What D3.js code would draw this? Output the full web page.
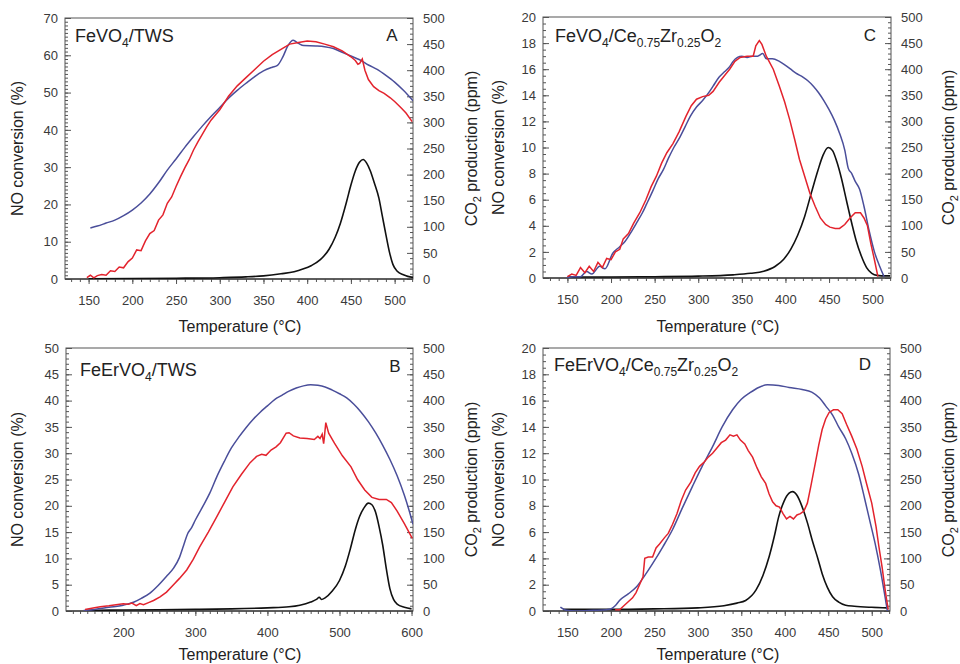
<!DOCTYPE html>
<html><head><meta charset="utf-8">
<script src="https://cdn.jsdelivr.net/npm/d3@7"></script>
<style>
body{margin:0;background:#fff}
svg{display:block}
text{font-family:"Liberation Sans",Arial,Helvetica,sans-serif}
</style>
</head><body>
<svg id="chart" width="960" height="664"></svg>
<script>
// ---------------- DATA ----------------
// Panel A: FeVO4/TWS
const A_blue = [[152,13.7],[160,14.2],[170,15.0],[180,15.8],[190,17.0],[200,18.5],[210,20.4],[220,22.8],[230,25.8],[240,29.2],[250,32.2],[260,35.3],[270,38.2],[280,41.0],[290,43.6],[300,46.0],[310,48.5],[320,50.6],[330,52.5],[340,54.3],[350,55.8],[360,56.8],[366,57.3],[372,59.5],[378,62.6],[384,64.0],[390,63.2],[396,62.6],[410,62.5],[420,62.3],[430,61.8],[440,60.8],[450,59.8],[460,58.8],[470,57.4],[480,56.2],[490,54.6],[500,52.8],[510,50.6],[521,47.8]];
const A_red = [[148,0.4],[152,1.0],[156,0.3],[160,0.9],[165,1.2],[170,1.0],[175,2.2],[180,2.0],[185,3.2],[190,3.0],[195,4.6],[200,5.6],[205,7.8],[210,7.6],[215,10.2],[220,12.2],[225,13.0],[230,15.8],[235,17.2],[240,20.3],[245,22.0],[250,24.8],[255,27.4],[260,29.8],[265,32.0],[270,34.6],[275,36.8],[280,38.8],[285,40.8],[290,42.6],[295,44.0],[300,45.4],[310,49.0],[320,51.8],[330,54.0],[340,56.2],[350,58.4],[360,60.2],[370,61.6],[380,63.0],[390,63.4],[400,63.8],[410,63.6],[420,63.0],[430,62.3],[440,61.2],[450,59.6],[455,58.6],[458,57.6],[460,57.8],[463,59.0],[466,56.0],[470,53.5],[476,51.6],[482,50.5],[488,49.8],[495,48.6],[500,47.6],[507,46.0],[513,44.5],[520,42.2]];
const A_co2 = [[150,0.5],[200,1],[250,1.5],[300,2.5],[330,4],[350,6],[370,10],[385,14],[395,19],[405,26],[415,37],[425,57],[432,80],[438,107],[445,148],[450,180],[455,207],[460,224],[464,229],[468,222],[472,208],[477,183],[482,155],[486,120],[490,85],[494,52],[498,28],[503,15],[510,8],[515,5],[521,3]];

// Panel B: FeErVO4/TWS
const B_blue = [[145,0.1],[160,0.3],[180,0.7],[200,1.1],[215,1.7],[225,2.4],[237,3.4],[248,4.8],[260,6.6],[270,8.2],[278,10.2],[284,12.6],[289,14.6],[295,15.9],[300,17.3],[310,19.8],[320,22.4],[330,25.6],[340,28.4],[350,31.0],[360,33.0],[370,34.8],[380,36.4],[390,37.8],[400,39.0],[410,40.2],[420,41.0],[430,41.8],[440,42.4],[450,42.8],[460,43.0],[470,42.9],[480,42.6],[490,42.0],[500,41.3],[510,40.5],[520,39.3],[530,37.8],[540,36.0],[550,33.9],[560,31.5],[570,28.8],[580,25.7],[590,22.0],[596,19.4],[602,16.5]];
const B_red = [[147,0.3],[160,0.6],[168,0.8],[180,1.0],[190,1.2],[200,1.4],[207,1.3],[212,1.5],[218,1.0],[223,1.4],[228,1.2],[235,1.6],[242,2.0],[251,2.7],[260,3.6],[269,4.9],[278,6.2],[288,7.8],[297,9.8],[306,12.2],[318,15.0],[330,18.0],[341,20.8],[352,23.6],[364,26.0],[376,28.2],[385,29.4],[392,29.8],[398,29.6],[405,30.6],[412,31.2],[418,32.0],[426,33.8],[430,33.9],[436,33.3],[445,32.9],[455,32.8],[465,32.6],[470,33.2],[473,32.8],[476,33.6],[478,31.8],[479,33.0],[481,35.8],[485,33.8],[493,31.9],[504,29.5],[516,27.4],[525,25.0],[535,23.0],[545,21.6],[555,21.2],[565,21.2],[572,20.6],[580,19.0],[590,16.6],[601,13.8]];
const B_co2 = [[147,1],[200,2],[300,3],[350,4],[400,6],[430,8],[445,11],[460,17],[468,22],[472,26],[475,22],[480,25],[490,38],[500,58],[508,85],[515,118],[522,155],[528,180],[534,196],[540,205],[545,202],[550,188],[555,160],[560,125],[565,80],[570,42],[575,22],[580,13],[590,7],[600,4]];

// Panel C: FeVO4/Ce0.75Zr0.25O2
const C_blue = [[149,0],[157,0.1],[165,0.1],[172,0.5],[178,0.3],[187,0.9],[193,0.7],[202,1.9],[210,2.4],[216,2.8],[222,3.4],[230,4.3],[236,5.0],[241,5.7],[248,6.7],[254,7.6],[260,8.3],[266,9.2],[272,10.0],[279,10.8],[285,11.6],[291,12.4],[298,13.1],[305,13.6],[312,14.2],[317,14.7],[324,15.4],[330,15.8],[336,16.2],[340,16.6],[345,16.9],[350,17.0],[356,16.9],[362,17.0],[368,17.0],[374,17.2],[378,16.8],[385,16.8],[393,16.6],[400,16.3],[406,16.0],[412,15.7],[420,15.4],[426,15.1],[432,14.7],[438,14.2],[444,13.6],[450,12.9],[456,12.1],[462,11.1],[468,9.8],[472,8.4],[476,8.0],[480,7.4],[485,6.8],[490,5.5],[496,3.6],[502,2.0],[508,0.9],[513,0.1]];
const C_red = [[150,0.1],[155,0.3],[160,0.2],[165,0.8],[170,0.4],[175,0.9],[180,0.5],[185,1.2],[190,0.8],[195,1.5],[200,1.4],[205,2.0],[210,2.2],[214,3.0],[220,3.4],[226,4.2],[233,5.0],[240,6.0],[246,7.0],[252,7.8],[258,8.8],[264,9.6],[271,10.3],[278,11.2],[286,12.4],[292,13.2],[298,13.7],[305,13.9],[312,14.0],[317,14.3],[324,15.0],[330,15.5],[336,16.0],[342,16.6],[348,16.9],[356,17.0],[363,17.0],[366,17.8],[370,18.2],[373,17.9],[378,17.0],[386,16.0],[393,14.7],[399,13.5],[405,12.1],[411,10.5],[416,9.1],[422,7.8],[428,6.5],[434,5.5],[440,4.6],[446,4.1],[451,3.9],[457,3.8],[462,3.8],[468,4.1],[474,4.6],[480,5.0],[486,5.0],[490,4.6],[494,4.0],[498,2.6],[502,1.4],[506,0.1]];
const C_co2 = [[150,2],[200,2],[250,2.5],[300,3.5],[340,6],[360,9],[375,13],[388,22],[398,36],[406,55],[414,82],[422,118],[430,165],[437,205],[443,235],[449,250],[454,244],[459,222],[464,192],[470,148],[476,105],[481,72],[487,42],[493,20],[499,9],[505,5],[515,4],[520,4]];

// Panel D: FeErVO4/Ce0.75Zr0.25O2
const D_blue = [[142,0.3],[149,0.05],[160,0],[180,0.05],[195,0.1],[200,0.15],[205,0.4],[210,0.8],[220,1.3],[229,1.8],[238,2.6],[248,3.6],[260,4.9],[271,6.2],[282,7.8],[294,9.5],[305,11.0],[317,12.5],[328,14.0],[340,15.3],[350,16.1],[360,16.6],[370,17.0],[380,17.2],[393,17.15],[405,17.0],[420,16.85],[431,16.65],[440,16.2],[447,15.6],[455,14.9],[462,14.0],[470,13.1],[477,12.0],[485,10.4],[492,8.5],[498,6.8],[504,5.1],[510,3.1],[515,1.2],[518,0]];
const D_red = [[205,0.1],[210,0.1],[215,0.4],[220,0.7],[225,1.0],[229,1.4],[233,2.0],[237,2.6],[239,4.0],[243,4.1],[248,4.1],[252,4.8],[256,5.1],[262,5.6],[266,5.9],[271,6.6],[276,7.4],[281,8.4],[286,9.2],[292,9.8],[297,10.5],[302,11.0],[307,11.3],[312,11.7],[317,12.0],[322,12.4],[327,12.8],[332,13.0],[337,13.4],[341,13.3],[345,13.4],[349,13.0],[354,12.7],[358,12.2],[363,11.7],[368,10.9],[373,10.2],[378,9.7],[382,8.9],[386,8.3],[390,8.0],[394,7.9],[398,7.4],[402,7.0],[406,7.2],[410,7.0],[414,7.3],[418,7.4],[422,7.6],[426,8.2],[430,9.5],[435,11.2],[439,12.6],[443,13.8],[447,14.6],[451,15.1],[456,15.3],[461,15.3],[466,15.0],[471,14.2],[477,13.3],[483,12.3],[489,11.0],[494,9.7],[500,8.2],[505,6.4],[508,5.0],[512,3.3],[515,1.8],[517,0.9],[519,0.1]];
const D_co2 = [[145,3],[200,3],[250,4],[300,6],[330,10],[345,15],[355,20],[367,40],[375,68],[382,103],[388,142],[393,179],[399,208],[405,224],[409,227],[414,220],[420,198],[426,168],[432,132],[438,100],[443,71],[449,45],[455,27],[462,17],[470,11],[480,9],[500,7],[518,6]];

// Tick labels
const xTicksACD = [150,200,250,300,350,400,450,500];
const xTicksB = [200,300,400,500,600];
const yTicksA = [0,10,20,30,40,50,60,70];
const yTicksB = [0,5,10,15,20,25,30,35,40,45,50];
const yTicksCD = [0,2,4,6,8,10,12,14,16,18,20];
const co2Ticks = [0,50,100,150,200,250,300,350,400,450,500];

const titles = {
  A:[["FeVO",0],["4",1],["/TWS",0]],
  B:[["FeErVO",0],["4",1],["/TWS",0]],
  C:[["FeVO",0],["4",1],["/Ce",0],["0.75",1],["Zr",0],["0.25",1],["O",0],["2",1]],
  D:[["FeErVO",0],["4",1],["/Ce",0],["0.75",1],["Zr",0],["0.25",1],["O",0],["2",1]]
};

// ---------------- LAYOUT ----------------
const panels = [
  {id:"A", L:65, R:413, T:18, B:279, xd:[123,521], xt:xTicksACD, yMax:70, yt:yTicksA, yMinor:1,
   blue:A_blue, red:A_red, co2:A_co2, tx:75, ty:42, lx:392, ly:41, ylx:17, yrx:472, xtx:240, xty:332},
  {id:"B", L:66, R:413, T:348, B:611, xd:[120.5,602], xt:xTicksB, yMax:50, yt:yTicksB, yMinor:1,
   blue:B_blue, red:B_red, co2:B_co2, tx:80, ty:376, lx:395, ly:372, ylx:17, yrx:472, xtx:240, xty:660},
  {id:"C", L:543, R:891, T:17, B:278, xd:[122,521], xt:xTicksACD, yMax:20, yt:yTicksCD, yMinor:0.5,
   blue:C_blue, red:C_red, co2:C_co2, tx:555, ty:42, lx:870, ly:41, ylx:498, yrx:949, xtx:718, xty:332},
  {id:"D", L:543, R:890, T:348, B:611, xd:[122,521], xt:xTicksACD, yMax:20, yt:yTicksCD, yMinor:0.5,
   blue:D_blue, red:D_red, co2:D_co2, tx:554, ty:371, lx:865, ly:370, ylx:498, yrx:949, xtx:718, xty:660}
];

const svg = d3.select("#chart");
const BLUE = "#4a4e9a", RED = "#e3232d", BLACK = "#111";
const tickCol = "#555", labCol = "#3a3a3a";

function styleAxis(g){
  g.select(".domain").remove();
  g.selectAll(".tick line").attr("stroke", tickCol).attr("stroke-width", 1);
  g.selectAll(".tick text").attr("fill", labCol).attr("font-size", 13);
}

panels.forEach(p => {
  const x = d3.scaleLinear().domain(p.xd).range([p.L, p.R]);
  const y = d3.scaleLinear().domain([0, p.yMax]).range([p.B, p.T]);
  const y2 = d3.scaleLinear().domain([0, 500]).range([p.B, p.T]);
  const g = svg.append("g");

  // minor ticks
  const xMinor = d3.range(Math.ceil(p.xd[0]/10)*10, p.xd[1]+0.01, 10);
  g.append("g").attr("transform",`translate(0,${p.B})`)
    .call(d3.axisBottom(x).tickValues(xMinor).tickSize(3).tickFormat("")).call(styleAxis);
  const yMinorVals = d3.range(0, p.yMax+1e-6, p.yMinor);
  g.append("g").attr("transform",`translate(${p.L},0)`)
    .call(d3.axisLeft(y).tickValues(yMinorVals).tickSize(-3).tickFormat("")).call(styleAxis);
  g.append("g").attr("transform",`translate(${p.R},0)`)
    .call(d3.axisRight(y2).tickValues(d3.range(0,501,10)).tickSize(-3).tickFormat("")).call(styleAxis);

  // major ticks
  g.append("g").attr("transform",`translate(0,${p.B})`)
    .call(d3.axisBottom(x).tickValues(p.xt).tickSize(5).tickPadding(12).tickFormat(d3.format("d"))).call(styleAxis);
  g.append("g").attr("transform",`translate(${p.L},0)`)
    .call(d3.axisLeft(y).tickValues(p.yt).tickSize(-6).tickPadding(7).tickFormat(d3.format("d"))).call(styleAxis);
  g.append("g").attr("transform",`translate(${p.R},0)`)
    .call(d3.axisRight(y2).tickValues(co2Ticks).tickSize(-6).tickPadding(10).tickFormat(d3.format("d"))).call(styleAxis);

  // frame
  g.append("rect").attr("x",p.L).attr("y",p.T).attr("width",p.R-p.L).attr("height",p.B-p.T)
    .attr("fill","none").attr("stroke","#555").attr("stroke-width",1);
  g.append("line").attr("x1",p.L).attr("x2",p.R).attr("y1",p.B).attr("y2",p.B)
    .attr("stroke","#444").attr("stroke-width",1.6);

  // curves
  const clipId = "clip"+p.id;
  svg.append("clipPath").attr("id",clipId).append("rect")
    .attr("x",p.L).attr("y",p.T-2).attr("width",p.R-p.L).attr("height",p.B-p.T+2);
  const lineNO = d3.line().x(d=>x(d[0])).y(d=>y(d[1]));
  const lineNOs = d3.line().x(d=>x(d[0])).y(d=>y(d[1])).curve(d3.curveMonotoneX);
  const lineCO = d3.line().x(d=>x(d[0])).y(d=>y2(d[1])).curve(d3.curveMonotoneX);
  const cg = g.append("g").attr("clip-path",`url(#${clipId})`);
  cg.append("path").attr("d", lineCO(p.co2)).attr("fill","none").attr("stroke",BLACK).attr("stroke-width",1.6);
  cg.append("path").attr("d", lineNOs(p.blue)).attr("fill","none").attr("stroke",BLUE).attr("stroke-width",1.5);
  cg.append("path").attr("d", lineNO(p.red)).attr("fill","none").attr("stroke",RED).attr("stroke-width",1.5);

  // title with subscripts
  const t = g.append("text").attr("x",p.tx).attr("y",p.ty).attr("font-size",18).attr("fill","#222");
  let sub = false;
  titles[p.id].forEach(([s,isSub]) => {
    const ts = t.append("tspan").text(s);
    if (isSub && !sub){ ts.attr("dy",5).attr("font-size",12); sub=true; }
    else if (isSub && sub){ ts.attr("font-size",12); }
    else if (!isSub && sub){ ts.attr("dy",-5); sub=false; }
  });
  // panel letter
  g.append("text").attr("x",p.lx).attr("y",p.ly).attr("text-anchor","middle")
    .attr("font-size",17).attr("fill","#222").text(p.id);

  // axis titles
  g.append("text").attr("transform",`translate(${p.ylx},${(p.T+p.B)/2}) rotate(-90)`)
    .attr("text-anchor","middle").attr("dy","0.35em").attr("font-size",16).attr("fill","#222")
    .text("NO conversion (%)");
  const rt = g.append("text").attr("transform",`translate(${p.yrx},${(p.T+p.B)/2}) rotate(-90)`)
    .attr("text-anchor","middle").attr("dy","0.3em").attr("font-size",16).attr("fill","#222");
  rt.append("tspan").text("CO");
  rt.append("tspan").text("2").attr("font-size",11).attr("dy",4);
  rt.append("tspan").text(" production (ppm)").attr("dy",-4);
  g.append("text").attr("x",p.xtx).attr("y",p.xty).attr("text-anchor","middle")
    .attr("font-size",16).attr("fill","#222").text("Temperature (°C)");
});
</script>
</body></html>
